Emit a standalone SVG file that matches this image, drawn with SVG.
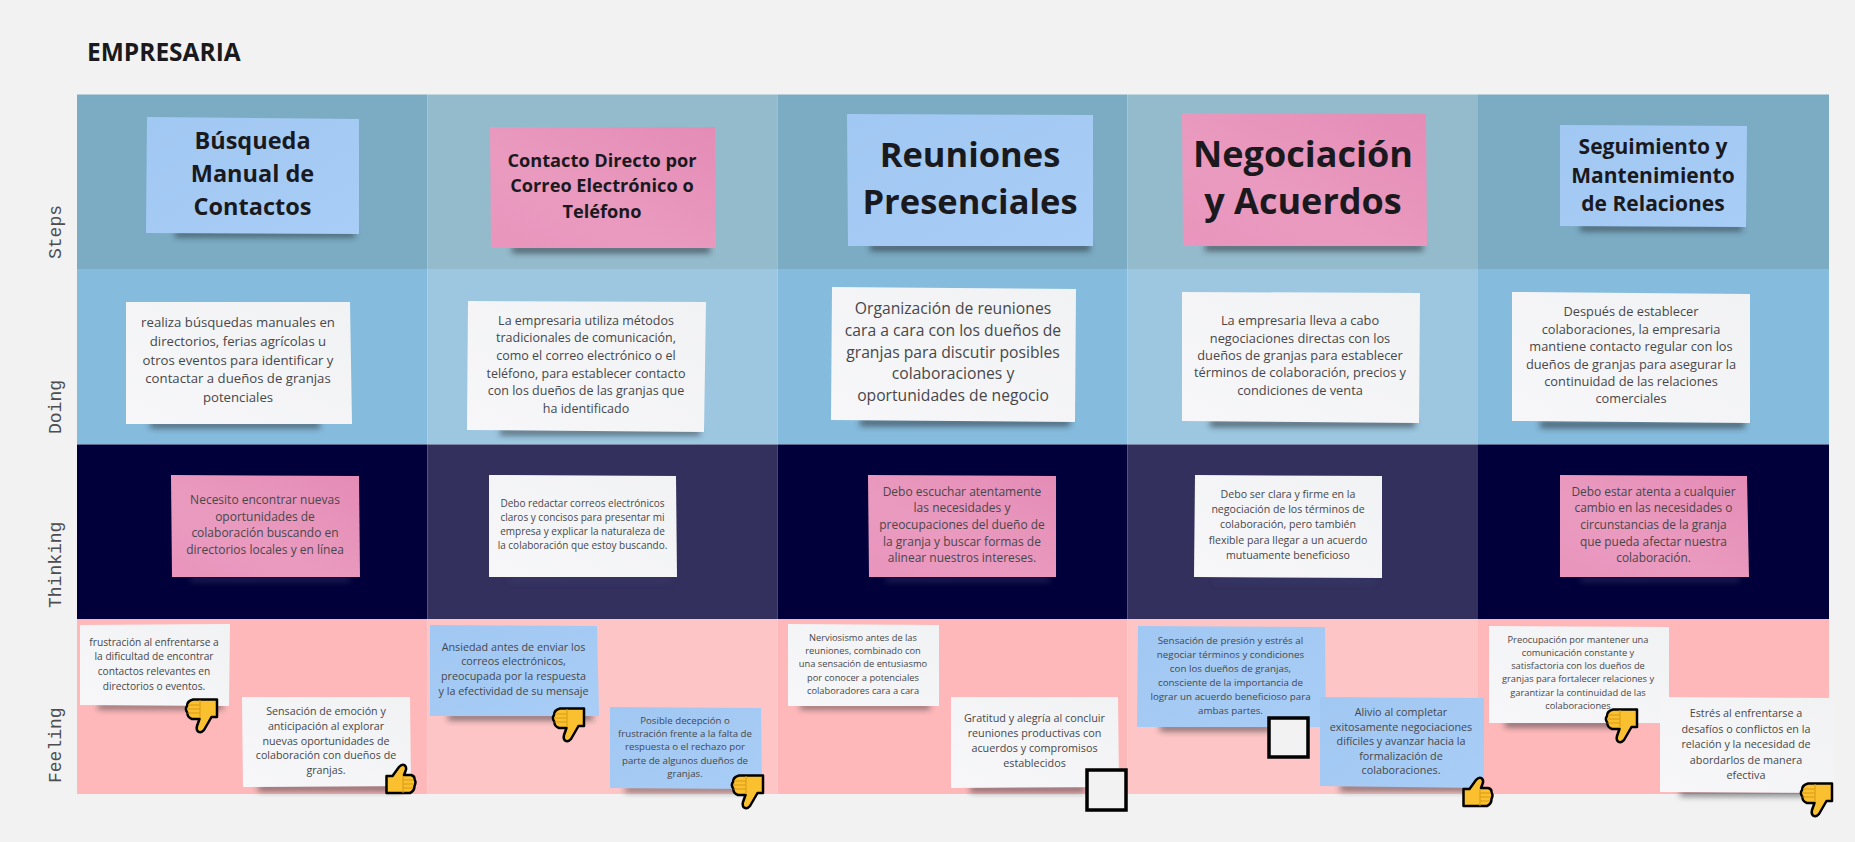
<svg xmlns="http://www.w3.org/2000/svg" width="1855" height="842" viewBox="0 0 1855 842">
<style>
text{font-family:"Open Sans","Noto Sans","Liberation Sans",sans-serif;text-anchor:middle;fill:#47474a}
.h{font-weight:700;fill:#1a1a1e}
.lane{font-family:"Liberation Mono","DejaVu Sans Mono",monospace;font-size:18px;text-anchor:start;fill:#4d4d50}
.blue{fill:url(#gb)}.pink{fill:url(#gp)}.white{fill:url(#gw)}
.sh{fill:#23262b;opacity:.62;filter:url(#b)}
.shd{fill:#3a3a6a;opacity:.5;filter:url(#b)}
.box{fill:#f2f2f2;stroke:#000;stroke-width:3.5}
.t{fill:#fbc02f;stroke:#000;stroke-width:2.5;stroke-linejoin:round}
.f{fill:none;stroke:#d89a14;stroke-width:1}
</style>
<defs>
<linearGradient id="gb" x1="0" y1="0" x2="1" y2="1"><stop offset="0" stop-color="#a1c8f2"/><stop offset="1" stop-color="#a8cdf7"/></linearGradient>
<linearGradient id="gp" x1="1" y1="0" x2="0" y2="1"><stop offset="0" stop-color="#e48cb6"/><stop offset=".6" stop-color="#ea9abf"/><stop offset="1" stop-color="#e995bd"/></linearGradient>
<linearGradient id="gw" x1="1" y1="0" x2="0" y2="1"><stop offset="0" stop-color="#f1f2f4"/><stop offset="1" stop-color="#f7f7f9"/></linearGradient>
<filter id="b" x="-20%" y="-150%" width="140%" height="400%"><feGaussianBlur stdDeviation="3"/></filter>
<g id="down"><path class="t" d="M9 1.500H33V19H27.500L20 32Q17 35.500 14 33.500Q12 31.500 13 28L15.500 21H8Q3 19 3.500 15Q.5 11 3 8Q3 3 9 1.500Z"/><path class="f" d="M4 7H16M3 11H16M3.500 15H16M16 2V20"/></g>
<g id="up"><path class="t" d="M1.500 13H7.500L14 4Q17 .5 20 2.500Q22 5 20.500 8L19 12H26Q30 13 29.500 16.500Q31.500 19 29.500 23Q29.500 28 25 30H1.500Z"/><path class="f" d="M18 17H29M18 21H29M18 25H28M18 13V30"/></g>
</defs>
<rect width="1855" height="842" fill="#f2f2f2"/>
<text id="title" x="87" y="61" class="h" style="text-anchor:start;font-size:24.500px">EMPRESARIA</text>
<g id="grid">
<rect x="77" y="94.500" width="350.500" height="174.500" fill="#7bacc4"/><rect x="427.500" y="94.500" width="350" height="174.500" fill="#94bbcc"/><rect x="777.500" y="94.500" width="350" height="174.500" fill="#7bacc4"/><rect x="1127.500" y="94.500" width="350.500" height="174.500" fill="#94bbcc"/><rect x="1478" y="94.500" width="351" height="174.500" fill="#7bacc4"/>
<rect x="77" y="269" width="350.500" height="175.500" fill="#85bbdc"/><rect x="427.500" y="269" width="350" height="175.500" fill="#9dc7e1"/><rect x="777.500" y="269" width="350" height="175.500" fill="#85bbdc"/><rect x="1127.500" y="269" width="350.500" height="175.500" fill="#9dc7e1"/><rect x="1478" y="269" width="351" height="175.500" fill="#85bbdc"/>
<rect x="77" y="444.500" width="350.500" height="174.500" fill="#01003a"/><rect x="427.500" y="444.500" width="350" height="174.500" fill="#33305e"/><rect x="777.500" y="444.500" width="350" height="174.500" fill="#01003a"/><rect x="1127.500" y="444.500" width="350.500" height="174.500" fill="#33305e"/><rect x="1478" y="444.500" width="351" height="174.500" fill="#01003a"/>
<rect x="77" y="619" width="350.500" height="175" fill="#feb8ba"/><rect x="427.500" y="619" width="350" height="175" fill="#fdc5c5"/><rect x="777.500" y="619" width="350" height="175" fill="#feb8ba"/><rect x="1127.500" y="619" width="350.500" height="175" fill="#fdc5c5"/><rect x="1478" y="619" width="351" height="175" fill="#feb8ba"/>
</g>
<g id="lanes">
<text class="lane" transform="translate(61 259) rotate(-90)">Steps</text>
<text class="lane" transform="translate(61 434) rotate(-90)">Doing</text>
<text class="lane" transform="translate(61 608) rotate(-90)">Thinking</text>
<text class="lane" transform="translate(61 783) rotate(-90)">Feeling</text>
</g>
<g id="connectors"></g>
<g id="s1"><rect class="sh" x="175" y="231" width="180" height="6"/><polygon class="blue" points="147,117 359,119 359,234 146,233"/><text class="h" style="font-size:23.500px"><tspan x="252.500" y="149">Búsqueda</tspan><tspan x="252.500" y="182">Manual de</tspan><tspan x="252.500" y="214.500">Contactos</tspan></text></g>
<g id="s2"><rect class="sh" x="512" y="246" width="198" height="7"/><polygon class="pink" points="490,127 715,127 716,248 491,248"/><text class="h" style="font-size:18.200px"><tspan x="602" y="166.500">Contacto Directo por</tspan><tspan x="602" y="192">Correo Electrónico o</tspan><tspan x="602" y="218">Teléfono</tspan></text></g>
<g id="s3"><rect class="sh" x="870" y="244" width="220" height="7"/><polygon class="blue" points="847,114 1093,115 1093,246 848,246"/><text class="h" style="font-size:34.500px"><tspan x="970" y="167">Reuniones</tspan><tspan x="970" y="213.500">Presenciales</tspan></text></g>
<g id="s4"><rect class="sh" x="1205" y="244" width="218" height="7"/><polygon class="pink" points="1182,113 1426,114 1427,246 1183,246"/><text class="h" style="font-size:36px"><tspan x="1303" y="167">Negociación</tspan><tspan x="1303" y="214">y Acuerdos</tspan></text></g>
<g id="s5"><rect class="sh" x="1580" y="225" width="162" height="6"/><polygon class="blue" points="1560,125 1747,126 1746,227 1560,226"/><text class="h" style="font-size:21px"><tspan x="1653" y="154">Seguimiento y</tspan><tspan x="1653" y="182.500">Mantenimiento</tspan><tspan x="1653" y="210.500">de Relaciones</tspan></text></g>
<g id="d1"><rect class="sh" x="150" y="422" width="170" height="6"/><polygon class="white" points="126,302 350,302 352,424 126,424"/><text style="font-size:13.200px"><tspan x="238" y="327">realiza búsquedas manuales en</tspan><tspan x="238" y="346">directorios, ferias agrícolas u</tspan><tspan x="238" y="364.500">otros eventos para identificar y</tspan><tspan x="238" y="383">contactar a dueños de granjas</tspan><tspan x="238" y="401.500">potenciales</tspan></text></g>
<g id="d2"><rect class="sh" x="500" y="429" width="200" height="6"/><polygon class="white" points="468,301 706,302 704,432 467,430"/><text style="font-size:12.500px"><tspan x="586" y="324.500">La empresaria utiliza métodos</tspan><tspan x="586" y="342">tradicionales de comunicación,</tspan><tspan x="586" y="359.500">como el correo electrónico o el</tspan><tspan x="586" y="377.500">teléfono, para establecer contacto</tspan><tspan x="586" y="395">con los dueños de las granjas que</tspan><tspan x="586" y="412.500">ha identificado</tspan></text></g>
<g id="d3"><rect class="sh" x="860" y="419" width="210" height="7"/><polygon class="white" points="832,287 1076,289 1075,422 831,420"/><text style="font-size:15.700px"><tspan x="953" y="314">Organización de reuniones</tspan><tspan x="953" y="336">cara a cara con los dueños de</tspan><tspan x="953" y="357.500">granjas para discutir posibles</tspan><tspan x="953" y="379">colaboraciones y</tspan><tspan x="953" y="401">oportunidades de negocio</tspan></text></g>
<g id="d4"><rect class="sh" x="1210" y="420" width="205" height="7"/><polygon class="white" points="1182,292 1420,293 1419,423 1182,421"/><text style="font-size:12.800px"><tspan x="1300" y="325">La empresaria lleva a cabo</tspan><tspan x="1300" y="342.500">negociaciones directas con los</tspan><tspan x="1300" y="360">dueños de granjas para establecer</tspan><tspan x="1300" y="377">términos de colaboración, precios y</tspan><tspan x="1300" y="395">condiciones de venta</tspan></text></g>
<g id="d5"><rect class="sh" x="1540" y="421" width="205" height="7"/><polygon class="white" points="1512,292 1750,294 1750,423 1512,421"/><text style="font-size:12.800px"><tspan x="1631" y="315.500">Después de establecer</tspan><tspan x="1631" y="333.500">colaboraciones, la empresaria</tspan><tspan x="1631" y="351">mantiene contacto regular con los</tspan><tspan x="1631" y="369">dueños de granjas para asegurar la</tspan><tspan x="1631" y="386">continuidad de las relaciones</tspan><tspan x="1631" y="403">comerciales</tspan></text></g>
<g id="t1"><rect class="shd" x="190" y="576" width="160" height="6"/><polygon class="pink" points="171,475 359,476 360,577 172,577"/><text style="font-size:12px"><tspan x="265" y="504">Necesito encontrar nuevas</tspan><tspan x="265" y="521">oportunidades de</tspan><tspan x="265" y="537">colaboración buscando en</tspan><tspan x="265" y="554">directorios locales y en línea</tspan></text></g>
<g id="t2"><rect class="shd" x="510" y="576" width="160" height="6"/><polygon class="white" points="489,475 676,476 677,577 489,577"/><text style="font-size:10px"><tspan x="582.500" y="507">Debo redactar correos electrónicos</tspan><tspan x="582.500" y="521">claros y concisos para presentar mi</tspan><tspan x="582.500" y="535">empresa y explicar la naturaleza de</tspan><tspan x="582.500" y="549">la colaboración que estoy buscando.</tspan></text></g>
<g id="t3"><rect class="shd" x="885" y="576" width="165" height="6"/><polygon class="pink" points="868,475 1056,476 1056,577 869,577"/><text style="font-size:12px"><tspan x="962" y="496">Debo escuchar atentamente</tspan><tspan x="962" y="512">las necesidades y</tspan><tspan x="962" y="529">preocupaciones del dueño de</tspan><tspan x="962" y="545.500">la granja y buscar formas de</tspan><tspan x="962" y="562">alinear nuestros intereses.</tspan></text></g>
<g id="t4"><rect class="shd" x="1215" y="577" width="160" height="6"/><polygon class="white" points="1195,475 1382,476 1382,578 1194,577"/><text style="font-size:10.600px"><tspan x="1288" y="498">Debo ser clara y firme en la</tspan><tspan x="1288" y="513">negociación de los términos de</tspan><tspan x="1288" y="528">colaboración, pero también</tspan><tspan x="1288" y="544">flexible para llegar a un acuerdo</tspan><tspan x="1288" y="559">mutuamente beneficioso</tspan></text></g>
<g id="t5"><rect class="shd" x="1580" y="576" width="160" height="6"/><polygon class="pink" points="1560,475 1747,476 1749,577 1560,577"/><text style="font-size:11.900px"><tspan x="1653.500" y="496">Debo estar atenta a cualquier</tspan><tspan x="1653.500" y="512">cambio en las necesidades o</tspan><tspan x="1653.500" y="529">circunstancias de la granja</tspan><tspan x="1653.500" y="545.500">que pueda afectar nuestra</tspan><tspan x="1653.500" y="562">colaboración.</tspan></text></g>
<g id="f1a"><rect class="sh" x="98" y="704" width="125" height="5"/><polygon class="white" points="80,625 230,624 229,706 80,705"/><text style="font-size:10.200px"><tspan x="154" y="645.500">frustración al enfrentarse a</tspan><tspan x="154" y="660">la dificultad de encontrar</tspan><tspan x="154" y="675">contactos relevantes en</tspan><tspan x="154" y="690">directorios o eventos.</tspan></text></g>
<g id="f1b"><rect class="sh" x="258" y="785" width="145" height="6"/><polygon class="white" points="242,697 410,697 411,786 243,787"/><text style="font-size:10.700px"><tspan x="326" y="715">Sensación de emoción y</tspan><tspan x="326" y="730">anticipación al explorar</tspan><tspan x="326" y="744.500">nuevas oportunidades de</tspan><tspan x="326" y="759">colaboración con dueños de</tspan><tspan x="326" y="774">granjas.</tspan></text></g>
<g id="f2a"><rect class="sh" x="448" y="714" width="145" height="6"/><polygon class="blue" points="430,625 597,626 599,716 430,716"/><text style="font-size:10.800px"><tspan x="513.500" y="651">Ansiedad antes de enviar los</tspan><tspan x="513.500" y="665">correos electrónicos,</tspan><tspan x="513.500" y="680">preocupada por la respuesta</tspan><tspan x="513.500" y="695">y la efectividad de su mensaje</tspan></text></g>
<g id="f2b"><rect class="sh" x="625" y="787" width="130" height="5"/><polygon class="blue" points="610,707 761,708 762,789 610,788"/><text style="font-size:9.700px"><tspan x="685" y="724">Posible decepción o</tspan><tspan x="685" y="737">frustración frente a la falta de</tspan><tspan x="685" y="750">respuesta o el rechazo por</tspan><tspan x="685" y="764">parte de algunos dueños de</tspan><tspan x="685" y="777">granjas.</tspan></text></g>
<g id="f3a"><rect class="sh" x="800" y="704" width="130" height="5"/><polygon class="white" points="788,624 939,625 939,706 788,706"/><text style="font-size:9.300px"><tspan x="863" y="641">Nerviosismo antes de las</tspan><tspan x="863" y="654">reuniones, combinado con</tspan><tspan x="863" y="667">una sensación de entusiasmo</tspan><tspan x="863" y="681">por conocer a potenciales</tspan><tspan x="863" y="694">colaboradores cara a cara</tspan></text></g>
<g id="f3b"><rect class="sh" x="970" y="786" width="115" height="6"/><polygon class="white" points="951,697 1118,697 1119,787 951,788"/><text style="font-size:10.800px"><tspan x="1034.500" y="722">Gratitud y alegría al concluir</tspan><tspan x="1034.500" y="737">reuniones productivas con</tspan><tspan x="1034.500" y="752">acuerdos y compromisos</tspan><tspan x="1034.500" y="767">establecidos</tspan></text></g>
<g id="f4a"><rect class="sh" x="1160" y="725" width="110" height="6"/><polygon class="blue" points="1138,626 1325,627 1326,727 1137,727"/><text style="font-size:9.800px"><tspan x="1230.500" y="644">Sensación de presión y estrés al</tspan><tspan x="1230.500" y="658">negociar términos y condiciones</tspan><tspan x="1230.500" y="672">con los dueños de granjas,</tspan><tspan x="1230.500" y="686">consciente de la importancia de</tspan><tspan x="1230.500" y="700">lograr un acuerdo beneficioso para</tspan><tspan x="1230.500" y="714">ambas partes.</tspan></text></g>
<g id="f4b"><rect class="sh" x="1340" y="785" width="130" height="6"/><polygon class="blue" points="1320,697 1484,698 1484,788 1320,786"/><text style="font-size:10.800px"><tspan x="1401" y="716">Alivio al completar</tspan><tspan x="1401" y="731">exitosamente negociaciones</tspan><tspan x="1401" y="745">difíciles y avanzar hacia la</tspan><tspan x="1401" y="760">formalización de</tspan><tspan x="1401" y="774">colaboraciones.</tspan></text></g>
<g id="f5a"><rect class="sh" x="1505" y="721" width="110" height="6"/><polygon class="white" points="1489,626 1669,627 1669,723 1489,723"/><text style="font-size:9.300px"><tspan x="1578" y="643">Preocupación por mantener una</tspan><tspan x="1578" y="656">comunicación constante y</tspan><tspan x="1578" y="669">satisfactoria con los dueños de</tspan><tspan x="1578" y="682">granjas para fortalecer relaciones y</tspan><tspan x="1578" y="696">garantizar la continuidad de las</tspan><tspan x="1578" y="709">colaboraciones</tspan></text></g>
<g id="f5b"><rect class="sh" x="1680" y="790" width="125" height="6"/><polygon class="white" points="1660,697 1834,698 1834,793 1660,792"/><text style="font-size:10.800px"><tspan x="1746" y="717">Estrés al enfrentarse a</tspan><tspan x="1746" y="733">desafíos o conflictos en la</tspan><tspan x="1746" y="748">relación y la necesidad de</tspan><tspan x="1746" y="764">abordarlos de manera</tspan><tspan x="1746" y="779">efectiva</tspan></text></g>
<g id="icons">
<use href="#down" x="184" y="698"/><use href="#up" x="385" y="763"/><use href="#down" x="551" y="707"/><use href="#down" x="730" y="774"/><use href="#up" x="1462" y="776"/><use href="#down" x="1604" y="708"/><use href="#down" x="1799" y="782"/>
<rect class="box" x="1087" y="770" width="39" height="40"/><rect class="box" x="1269" y="718" width="39" height="39"/>
</g>
</svg>
